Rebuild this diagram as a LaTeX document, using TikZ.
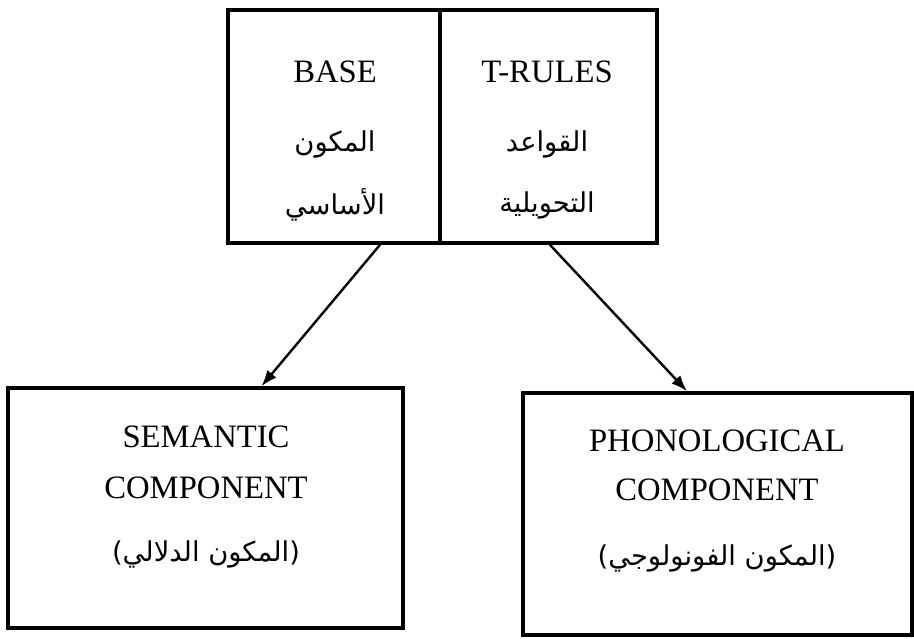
\documentclass[tikz,border=0pt]{standalone}
\usepackage{fontspec}
\setmainfont{Liberation Serif}
\newfontfamily\arabicfont[Script=Arabic]{DejaVu Sans}
\TeXXeTstate=1
\usetikzlibrary{arrows.meta}
\tikzset{
  box/.style={draw=black, line width=2.7pt, inner sep=0pt},
  lbl/.style={font=\fontsize{24.5}{28}\selectfont, inner sep=0pt, anchor=center},
  ar/.style={font=\arabicfont\fontsize{20.5}{25}\selectfont, inner sep=0pt, anchor=center},
  arr/.style={line width=1.8pt, -{Latex[length=12pt,width=9pt]}}
}
\begin{document}
\begin{tikzpicture}[x=0.75pt,y=-0.75pt]
\useasboundingbox (0,0) rectangle (914,639);
% top boxes
\node[box, minimum width=159pt, minimum height=174.75pt] (base) at (334,126.5) {};
\node[box, minimum width=162.75pt, minimum height=174.75pt] (trules) at (548.5,126.5) {};
% bottom boxes
\node[box, minimum width=296.25pt, minimum height=180pt] (sem) at (205.5,508) {};
\node[box, minimum width=291.75pt, minimum height=181.5pt] (phon) at (717.5,514) {};
% texts
\node[lbl] (baseT) at (335,72) {BASE};
\node[ar] (baseA1) at (335,144) {\beginR المكون\endR};
\node[ar] (baseA2) at (335,205) {\beginR الأساسي\endR};
\node[lbl] (trT) at (547,72) {T-RULES};
\node[ar] (trA1) at (547,144) {\beginR القواعد\endR};
\node[ar] (trA2) at (547,205) {\beginR التحويلية\endR};
\node[lbl] (semT1) at (206,437) {SEMANTIC};
\node[lbl] (semT2) at (206,488) {COMPONENT};
\node[ar] (semA) at (206,554) {\beginR(المكون الدلالي)\endR};
\node[lbl] (phT1) at (717,441) {PHONOLOGICAL};
\node[lbl] (phT2) at (717,490) {COMPONENT};
\node[ar] (phA) at (717,558) {\beginR(المكون الفونولوجي)\endR};
% arrows
\draw[arr] ([xshift=34.5pt]base.south) -- ([xshift=42pt]sem.north);
\draw[arr] ([xshift=1.1pt]trules.south) -- ([xshift=-22.9pt]phon.north);
\end{tikzpicture}
\end{document}
